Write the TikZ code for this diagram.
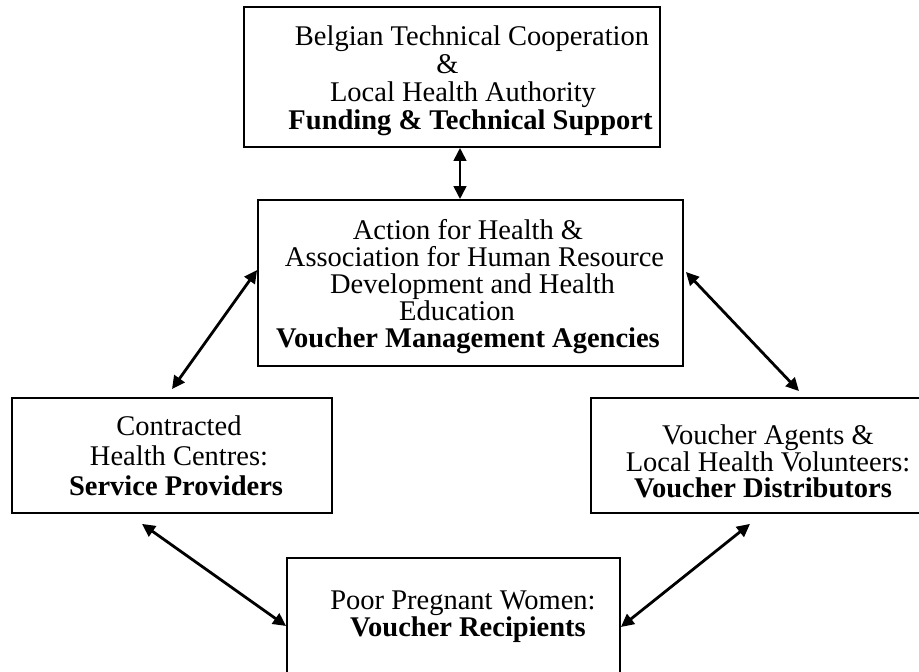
\documentclass[tikz,border=0pt]{standalone}
\usepackage{fontspec}
\setmainfont{Liberation Serif}
\usetikzlibrary{arrows.meta}

\tikzset{
  frame/.style={draw=black, line width=1.8pt, fill=none, inner sep=0pt},
  label text/.style={align=center, inner sep=0pt, text=black},
  link/.style={line width=2.8pt, draw=black,
    {Triangle[length=13pt,width=12.5pt]}-{Triangle[length=13pt,width=12.5pt]},
    shorten <=0pt, shorten >=0pt}
}

\newcommand{\txtsize}[1]{\fontsize{28.5}{#1}\selectfont}

\begin{document}
\begin{tikzpicture}[x=1pt, y=1pt]
  \useasboundingbox (0,0) rectangle (919,672);
  \fill[white] (0,0) rectangle (919,672);
  \clip (0,0) rectangle (919,672);

  % frames
  \node[frame, minimum width=416pt, minimum height=140pt] (funder) at (452,595) {};
  \node[frame, minimum width=425pt, minimum height=166pt] (agency) at (470.5,389) {};
  \node[frame, minimum width=320pt, minimum height=115pt] (provider) at (172,216.5) {};
  \node[frame, minimum width=339pt, minimum height=115pt] (distrib) at (760.5,216.5) {};
  \node[frame, minimum width=333pt, minimum height=142pt] (women) at (453.5,43) {};

  % texts
  \node[label text, font=\txtsize{28.3pt}] (funderT) at (463,591.2)
    {\hspace*{18pt}Belgian Technical Cooperation\\
     \&\hspace*{31pt}\mbox{}\\
     Local Health Authority\\
     \hspace*{15pt}\textbf{Funding \& Technical Support}};

  \node[label text, font=\txtsize{27pt}] (agencyT) at (468,385)
    {Action for Health \&\\
     \hspace*{13pt}Association for Human Resource\\
     \hspace*{9pt}Development and Health\\
     Education\hspace*{22pt}\mbox{}\\
     \textbf{Voucher Management Agencies}};

  \node[label text, font=\txtsize{30pt}] (providerT) at (179,216.7)
    {Contracted\\
     Health Centres:\\
     \textbf{Service Providers}\hspace*{6pt}\mbox{}};

  \node[label text, font=\txtsize{26.5pt}] (distribT) at (768,210.2)
    {Voucher Agents \&\\
     Local Health Volunteers:\\
     \textbf{Voucher Distributors}\hspace*{10pt}\mbox{}};

  \node[label text, font=\txtsize{23pt}] (womenT) at (463,55)
    {Poor Pregnant Women:\\
     \hspace*{10pt}\textbf{Voucher Recipients}};

  % connectors
  \draw[link] ([xshift=8pt]funder.south) -- ([xshift=-10.5pt]agency.north);
  \draw[link] ([yshift=8pt]provider.north) -- ([yshift=13pt]agency.west);
  \draw[link] ([xshift=2pt,yshift=11pt]agency.east) -- ([xshift=38.5pt,yshift=6pt]distrib.north);
  \draw[link] ([xshift=-30pt,yshift=-10pt]provider.south) -- ([yshift=3pt]women.west);
  \draw[link] ([xshift=-10.5pt,yshift=-10pt]distrib.south) -- ([yshift=2pt]women.east);
\end{tikzpicture}
\end{document}
